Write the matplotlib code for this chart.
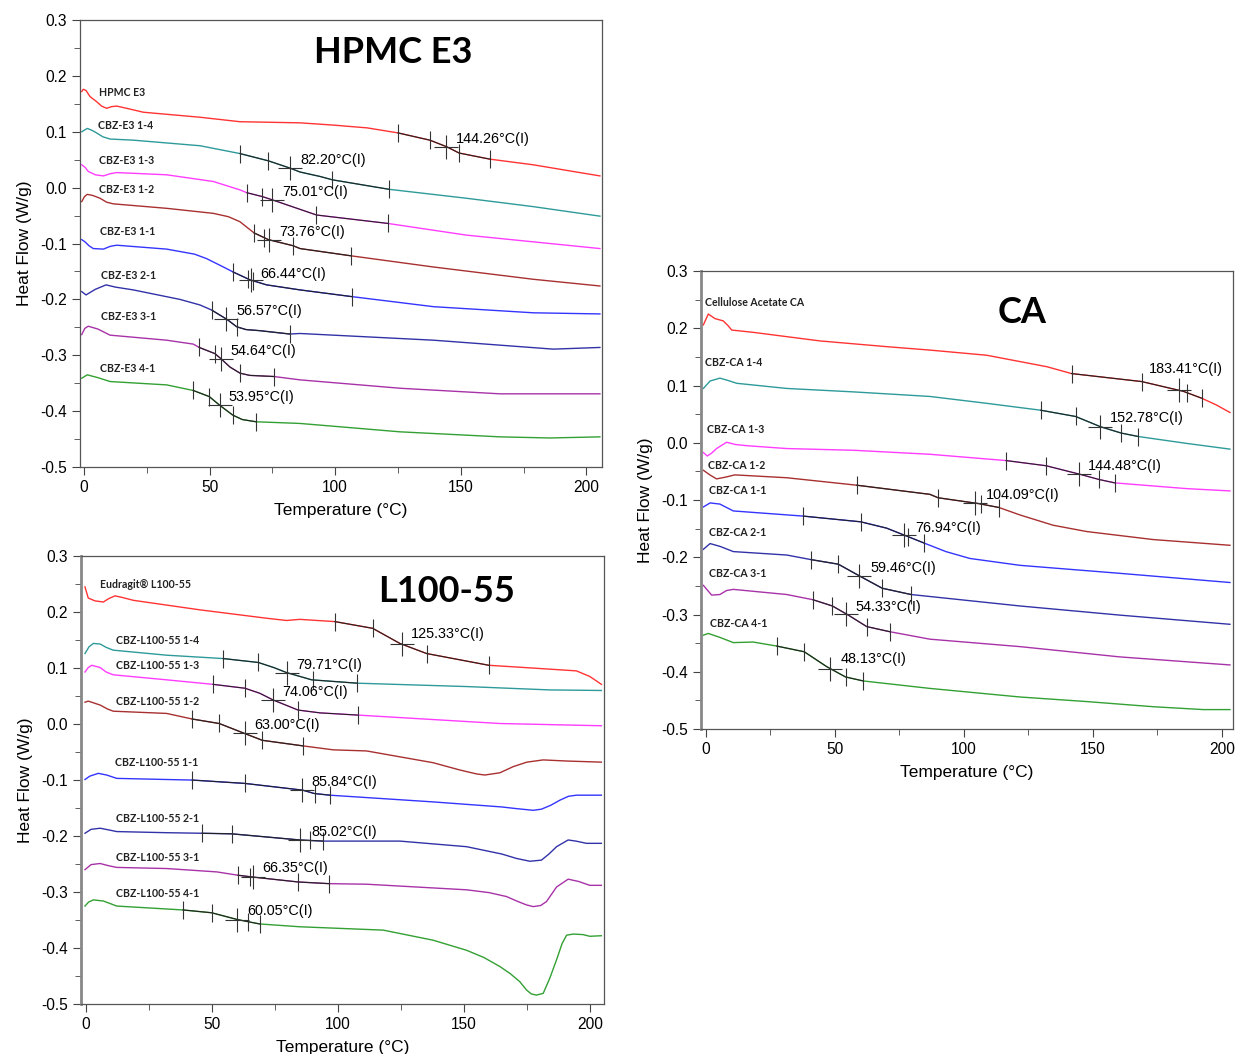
import numpy as np
import matplotlib
matplotlib.use('Agg')
import matplotlib.pyplot as plt
from matplotlib.ticker import MultipleLocator, FormatStrFormatter

plt.rcParams['font.family'] = ['Liberation Sans', 'DejaVu Sans']
plt.rcParams['axes.unicode_minus'] = False

# ---- HPMC E3 panel: (temperature degC, heat flow W/g)
hpmc_e3 = [(-0.9, 0.172), (-0.3, 0.176), (0.8, 0.174), (2.4, 0.163), (5.0, 0.154),
           (7.0, 0.146), (9.0, 0.142), (11.0, 0.145), (13.0, 0.146), (17.0, 0.142),
           (23.6, 0.135), (46.2, 0.126), (62.1, 0.118), (86.0, 0.116), (99.1, 0.112),
           (112.7, 0.107), (125.0, 0.098), (137.7, 0.085), (144.5, 0.073), (149.3, 0.062),
           (161.6, 0.051), (178.7, 0.041), (205.4, 0.021)]
cbz_e3_14 = [(-0.9, 0.100), (1.3, 0.106), (3.0, 0.103), (5.0, 0.098), (7.5, 0.091),
             (10.4, 0.087), (19.6, 0.085), (46.2, 0.075), (62.1, 0.061), (73.4, 0.048),
             (82.0, 0.035), (86.0, 0.028), (94.0, 0.020), (98.9, 0.014), (121.5, -0.003),
             (152.3, -0.019), (178.9, -0.034), (205.4, -0.051)]
cbz_e3_13 = [(-0.9, 0.041), (0.5, 0.036), (1.7, 0.029), (4.5, 0.023), (7.7, 0.021),
             (10.5, 0.025), (13.0, 0.027), (32.9, 0.023), (51.5, 0.011), (62.1, -0.004),
             (64.8, -0.009), (71.0, -0.016), (75.1, -0.022), (92.6, -0.049),
             (120.9, -0.064), (152.3, -0.085), (178.9, -0.097), (205.4, -0.109)]
cbz_e3_12 = [(-0.9, -0.025), (0.2, -0.016), (1.3, -0.012), (3.5, -0.014), (6.4, -0.019),
             (9.0, -0.026), (11.7, -0.029), (32.9, -0.037), (51.5, -0.046), (57.5, -0.052),
             (62.1, -0.061), (67.7, -0.081), (73.4, -0.093), (83.3, -0.104), (86.0, -0.109),
             (106.3, -0.122), (139.1, -0.142), (178.9, -0.164), (205.4, -0.176)]
cbz_e3_11 = [(-0.9, -0.093), (0.4, -0.097), (2.0, -0.104), (3.7, -0.109), (7.7, -0.110),
             (10.5, -0.105), (13.0, -0.103), (32.9, -0.110), (44.0, -0.119), (48.8, -0.127),
             (55.5, -0.142), (59.4, -0.151), (66.1, -0.165), (72.7, -0.174), (86.0, -0.183),
             (106.6, -0.195), (139.1, -0.213), (178.9, -0.224), (205.4, -0.226)]
cbz_e3_21 = [(-0.9, -0.186), (0.8, -0.192), (4.5, -0.182), (8.8, -0.174), (12.5, -0.178),
             (19.6, -0.183), (38.2, -0.200), (46.2, -0.210), (50.8, -0.219), (57.0, -0.236),
             (60.8, -0.249), (64.5, -0.254), (70.1, -0.256), (82.0, -0.262), (86.0, -0.261),
             (139.1, -0.273), (186.8, -0.289), (205.4, -0.286)]
cbz_e3_31 = [(-0.9, -0.263), (0.3, -0.252), (1.7, -0.248), (5.5, -0.253), (10.4, -0.264),
             (32.9, -0.273), (43.5, -0.280), (45.9, -0.286), (52.1, -0.297), (54.5, -0.306),
             (58.1, -0.321), (62.1, -0.332), (66.0, -0.336), (75.6, -0.338), (86.0, -0.344),
             (125.8, -0.359), (165.6, -0.369), (205.4, -0.369)]
cbz_e3_41 = [(-0.9, -0.341), (1.3, -0.335), (5.5, -0.340), (10.4, -0.347), (32.9, -0.353),
             (43.5, -0.363), (49.9, -0.374), (53.9, -0.389), (59.2, -0.407), (63.0, -0.415),
             (68.5, -0.419), (86.0, -0.422), (125.8, -0.437), (165.6, -0.446),
             (185.5, -0.448), (205.4, -0.446)]
e3_names = ['HPMC E3', 'CBZ-E3 1-4', 'CBZ-E3 1-3', 'CBZ-E3 1-2', 'CBZ-E3 1-1',
            'CBZ-E3 2-1', 'CBZ-E3 3-1', 'CBZ-E3 4-1']
e3_tg = [144.26, 82.20, 75.01, 73.76, 66.44, 56.57, 54.64, 53.95]
e3_ticks = [[125.0, 137.7, 149.3, 161.6], [62.1, 73.2, 98.7, 121.4],
            [64.9, 70.9, 92.4, 121.0], [67.7, 71.7, 83.2, 106.3],
            [59.3, 65.3, 67.3, 106.7], [51.0, 60.9, 82.0],
            [45.8, 52.1, 62.1, 75.6], [43.4, 49.8, 59.3, 68.5]]

# ---- Eudragit L100-55 panel
eudragit = [(-0.4, 0.245), (0.9, 0.225), (3.6, 0.220), (6.9, 0.218), (9.0, 0.224),
            (11.5, 0.229), (14.5, 0.226), (18.8, 0.221), (45.2, 0.204), (71.7, 0.189),
            (79.6, 0.185), (84.9, 0.187), (98.8, 0.183), (113.8, 0.171), (124.6, 0.144),
            (135.2, 0.126), (159.9, 0.105), (177.5, 0.100), (194.7, 0.095), (200.0, 0.085),
            (204.6, 0.071)]
cbz_l_14 = [(-0.4, 0.126), (1.2, 0.138), (2.9, 0.144), (5.6, 0.143), (8.0, 0.137),
            (10.8, 0.132), (32.0, 0.123), (54.5, 0.117), (68.4, 0.110), (74.5, 0.101),
            (79.6, 0.092), (89.6, 0.079), (107.7, 0.073), (151.1, 0.067), (184.1, 0.061),
            (204.6, 0.060)]
cbz_l_13 = [(-0.4, 0.093), (0.9, 0.101), (2.3, 0.105), (5.6, 0.101), (8.0, 0.093),
            (10.8, 0.088), (32.0, 0.079), (50.3, 0.071), (63.1, 0.064), (69.0, 0.055),
            (74.3, 0.043), (84.2, 0.025), (92.9, 0.020), (108.1, 0.016), (164.3, 0.001),
            (204.6, -0.003)]
cbz_l_12 = [(-0.4, 0.039), (0.9, 0.041), (5.6, 0.034), (8.5, 0.027), (10.8, 0.023),
            (32.0, 0.019), (42.2, 0.009), (52.9, 0.001), (63.1, -0.017), (70.0, -0.029),
            (86.2, -0.039), (98.1, -0.046), (111.4, -0.048), (137.8, -0.069),
            (148.4, -0.082), (155.0, -0.089), (158.3, -0.091), (164.3, -0.087),
            (169.6, -0.076), (175.0, -0.068), (181.5, -0.064), (190.8, -0.066),
            (204.6, -0.068)]
cbz_l_11 = [(-0.4, -0.099), (1.5, -0.093), (4.9, -0.088), (8.2, -0.091), (12.2, -0.097),
            (32.0, -0.099), (42.2, -0.100), (63.1, -0.106), (86.0, -0.118), (90.6, -0.124),
            (96.8, -0.127), (137.8, -0.139), (165.0, -0.148), (170.9, -0.151),
            (177.5, -0.154), (180.8, -0.152), (184.5, -0.145), (188.1, -0.136),
            (191.5, -0.129), (194.7, -0.127), (204.6, -0.127)]
cbz_l_21 = [(-0.4, -0.195), (2.0, -0.188), (5.6, -0.186), (9.0, -0.189), (12.2, -0.192),
            (32.0, -0.194), (45.9, -0.195), (57.8, -0.196), (84.9, -0.207), (94.2, -0.209),
            (124.6, -0.209), (151.1, -0.219), (165.0, -0.232), (170.9, -0.240),
            (176.2, -0.245), (180.8, -0.243), (183.8, -0.232), (186.8, -0.219),
            (191.4, -0.207), (194.5, -0.209), (198.7, -0.213), (204.6, -0.213)]
cbz_l_31 = [(-0.4, -0.260), (2.0, -0.251), (5.6, -0.249), (9.0, -0.253), (12.2, -0.256),
            (32.0, -0.258), (51.9, -0.264), (60.4, -0.270), (65.8, -0.273), (84.2, -0.282),
            (96.5, -0.285), (111.4, -0.286), (151.1, -0.296), (160.0, -0.301),
            (166.9, -0.308), (171.5, -0.317), (174.9, -0.323), (177.5, -0.326),
            (180.5, -0.324), (182.8, -0.317), (184.8, -0.304), (186.8, -0.291),
            (191.4, -0.277), (195.5, -0.281), (200.0, -0.288), (204.6, -0.288)]
cbz_l_41 = [(-0.4, -0.325), (1.0, -0.318), (2.9, -0.314), (6.9, -0.316), (12.2, -0.325),
            (38.6, -0.332), (49.9, -0.337), (60.0, -0.349), (64.4, -0.353), (69.0, -0.357),
            (84.9, -0.362), (118.0, -0.368), (137.8, -0.386), (151.1, -0.404),
            (158.0, -0.417), (164.3, -0.433), (168.5, -0.446), (172.2, -0.460),
            (174.9, -0.475), (176.8, -0.482), (178.8, -0.484), (181.5, -0.481),
            (184.1, -0.454), (186.8, -0.421), (189.0, -0.392), (190.8, -0.377),
            (193.5, -0.375), (197.3, -0.376), (200.0, -0.379), (204.6, -0.378)]
l_names = ['Eudragit\u00ae L100-55', 'CBZ-L100-55 1-4', 'CBZ-L100-55 1-3',
           'CBZ-L100-55 1-2', 'CBZ-L100-55 1-1', 'CBZ-L100-55 2-1',
           'CBZ-L100-55 3-1', 'CBZ-L100-55 4-1']
l_tg = [125.33, 79.71, 74.06, 63.00, 85.84, 85.02, 66.35, 60.05]
l_ticks = [[98.8, 113.9, 135.3, 159.9], [54.4, 68.3, 90.1, 107.5],
           [50.4, 63.1, 84.1, 107.9], [42.1, 52.8, 69.8, 86.1],
           [42.1, 63.1, 90.9, 96.8], [46.0, 57.9, 88.9, 94.0],
           [60.3, 65.1, 84.1, 96.4], [38.5, 50.0, 64.3, 69.0]]

# ---- Cellulose acetate panel
cellulose_ca = [(-1.0, 0.206), (0.9, 0.225), (3.5, 0.217), (6.7, 0.213), (8.5, 0.205),
                (10.0, 0.197), (18.3, 0.193), (44.2, 0.178), (70.0, 0.168), (86.8, 0.162),
                (108.8, 0.153), (132.1, 0.133), (141.7, 0.121), (168.9, 0.107),
                (185.0, 0.090), (192.1, 0.078), (197.9, 0.066), (203.1, 0.053)]
cbz_ca_14 = [(-1.0, 0.095), (1.6, 0.108), (5.4, 0.113), (8.5, 0.109), (11.9, 0.104),
             (31.3, 0.095), (57.1, 0.089), (86.8, 0.081), (108.8, 0.069), (129.7, 0.057),
             (143.3, 0.046), (153.0, 0.028), (161.0, 0.017), (167.6, 0.011),
             (186.3, -0.001), (203.1, -0.011)]
cbz_ca_13 = [(-1.0, -0.017), (0.5, -0.023), (2.2, -0.018), (4.1, -0.010), (8.0, 0.001),
             (11.5, -0.003), (15.8, -0.005), (31.3, -0.010), (57.1, -0.013), (86.8, -0.020),
             (116.3, -0.031), (131.8, -0.040), (145.0, -0.055), (152.3, -0.064),
             (158.5, -0.070), (186.3, -0.080), (203.1, -0.084)]
cbz_ca_12 = [(-1.0, -0.048), (1.5, -0.056), (4.1, -0.063), (7.5, -0.060), (11.2, -0.056),
             (31.3, -0.061), (58.4, -0.074), (86.8, -0.090), (90.0, -0.096), (105.5, -0.106),
             (113.6, -0.113), (121.7, -0.126), (134.6, -0.144), (147.6, -0.155),
             (173.4, -0.169), (203.1, -0.179)]
cbz_ca_11 = [(-1.0, -0.112), (1.6, -0.105), (5.4, -0.107), (10.6, -0.119), (37.7, -0.128),
             (60.0, -0.138), (70.0, -0.149), (78.4, -0.164), (84.5, -0.175), (93.0, -0.190),
             (102.3, -0.202), (121.7, -0.214), (160.5, -0.228), (203.1, -0.244)]
cbz_ca_21 = [(-1.0, -0.186), (1.6, -0.176), (5.5, -0.181), (10.6, -0.190), (31.3, -0.196),
             (40.7, -0.204), (51.3, -0.212), (59.7, -0.233), (68.3, -0.254), (79.5, -0.265),
             (121.7, -0.285), (160.5, -0.301), (203.1, -0.317)]
cbz_ca_31 = [(-1.0, -0.249), (2.2, -0.266), (5.4, -0.265), (8.0, -0.258), (10.6, -0.256),
             (31.3, -0.265), (41.4, -0.274), (49.0, -0.285), (55.2, -0.301), (62.3, -0.321),
             (71.3, -0.330), (86.8, -0.343), (121.7, -0.356), (160.5, -0.374),
             (203.1, -0.388)]
cbz_ca_41 = [(-1.0, -0.336), (0.9, -0.333), (5.5, -0.340), (10.6, -0.349), (18.3, -0.348),
             (27.4, -0.355), (38.1, -0.365), (46.8, -0.391), (54.1, -0.409), (61.0, -0.416),
             (86.8, -0.429), (121.7, -0.444), (147.6, -0.452), (173.4, -0.461),
             (192.8, -0.466), (203.1, -0.466)]
ca_names = ['Cellulose Acetate CA', 'CBZ-CA 1-4', 'CBZ-CA 1-3', 'CBZ-CA 1-2',
            'CBZ-CA 1-1', 'CBZ-CA 2-1', 'CBZ-CA 3-1', 'CBZ-CA 4-1']
ca_tg = [183.41, 152.78, 144.48, 104.09, 76.94, 59.46, 54.33, 48.13]
ca_ticks = [[141.7, 168.9, 186.4, 192.1], [129.7, 143.3, 161.0, 167.6],
            [116.3, 131.8, 152.3, 158.5], [58.4, 90.0, 106.6, 113.6],
            [37.7, 60.0, 78.3, 84.5], [40.7, 51.3, 68.3, 79.5],
            [41.5, 48.8, 62.3, 71.3], [27.4, 38.1, 54.1, 61.0]]

colors = ['#ff3333', '#2e9a9a', '#ff3cff', '#a83030', '#3434ff', '#3232a8',
          '#a832a8', '#33a033']


def style_axes(ax, xlim, left_lw):
    ax.set_xlim(*xlim)
    ax.set_ylim(-0.5, 0.3)
    ax.xaxis.set_major_locator(MultipleLocator(50))
    ax.xaxis.set_minor_locator(MultipleLocator(25))
    ax.yaxis.set_major_locator(MultipleLocator(0.1))
    ax.yaxis.set_minor_locator(MultipleLocator(0.05))
    ax.yaxis.set_major_formatter(FormatStrFormatter('%.1f'))
    ax.tick_params(which='both', direction='out', colors='#444444', labelcolor='black',
                   labelsize=11.2)
    ax.tick_params(which='major', length=6)
    ax.tick_params(which='minor', length=4)
    for s in ax.spines.values():
        s.set_color('#555555')
        s.set_linewidth(0.9)
    ax.spines['left'].set_linewidth(left_lw)
    ax.spines['left'].set_color('#888888' if left_lw > 1.2 else '#555555')
    ax.set_xlabel('Temperature (\u00b0C)', fontsize=12.5, labelpad=5.5)
    ax.set_ylabel('Heat Flow (W/g)', fontsize=12.5, labelpad=6)


def draw_curve(ax, pts, color, ticks, tg, txt_xy, name, name_xy):
    T = np.array([p[0] for p in pts])
    y = np.array([p[1] for p in pts])
    ax.plot(T, y, color=color, lw=1.0, zorder=2)
    lo, hi = min(ticks + [tg]), max(ticks + [tg])
    inside = (T > lo) & (T < hi)
    st = np.concatenate([[lo], T[inside], [hi]])
    ax.plot(st, np.interp(st, T, y), color='#222222', lw=0.8, zorder=3)
    ax.plot(ticks, np.interp(ticks, T, y), ls='none', marker='|', ms=13,
            mec='#333333', mew=0.8, zorder=4)
    ax.plot([tg], [np.interp(tg, T, y)], ls='none', marker='+', ms=17,
            mec='#333333', mew=0.8, zorder=4)
    ax.text(txt_xy[0], txt_xy[1], '%.2f\u00b0C(I)' % tg, fontsize=10.4,
            va='center', ha='left', zorder=5)
    ax.text(name_xy[0], name_xy[1], name, fontsize=7.6, fontweight='bold',
            family=['Lato', 'DejaVu Sans'], va='center', ha='left', color='#222222')


fig = plt.figure(figsize=(12.36, 10.54), dpi=100)

# ---------------- HPMC E3
ax1 = fig.add_axes([0.0647, 0.5569, 0.4223, 0.4241])
style_axes(ax1, (-1.6, 206.2), 0.9)
e3_curves = [hpmc_e3, cbz_e3_14, cbz_e3_13, cbz_e3_12, cbz_e3_11, cbz_e3_21,
             cbz_e3_31, cbz_e3_41]
e3_txt = [(148.1, 0.087), (86.0, 0.049), (78.8, -0.008), (77.6, -0.079),
          (70.1, -0.155), (60.5, -0.221), (58.5, -0.292), (57.7, -0.375)]
e3_lab = [(6.0, 0.171), (5.6, 0.112), (6.0, 0.048), (6.0, -0.003), (6.4, -0.078),
          (6.8, -0.158), (6.8, -0.230), (6.4, -0.323)]
for i in range(8):
    draw_curve(ax1, e3_curves[i], colors[i], e3_ticks[i], e3_tg[i], e3_txt[i],
               e3_names[i], e3_lab[i])
ax1.text(0.60, 0.927, 'HPMC E3', transform=ax1.transAxes, fontsize=26,
         fontweight='bold', family=['Lato', 'DejaVu Sans'], ha='center', va='center')

# ---------------- L100-55
ax2 = fig.add_axes([0.0655, 0.0474, 0.4231, 0.4250])
style_axes(ax2, (-2.0, 205.6), 2.0)
l_curves = [eudragit, cbz_l_14, cbz_l_13, cbz_l_12, cbz_l_11, cbz_l_21, cbz_l_31, cbz_l_41]
l_txt = [(129.0, 0.161), (83.3, 0.105), (77.8, 0.057), (66.7, -0.002),
         (89.3, -0.104), (89.3, -0.193), (69.8, -0.257), (63.9, -0.334)]
l_lab = [(5.6, 0.250), (11.9, 0.150), (11.9, 0.104), (11.9, 0.041), (11.5, -0.068),
         (11.9, -0.168), (11.9, -0.238), (11.9, -0.302)]
for i in range(8):
    draw_curve(ax2, l_curves[i], colors[i], l_ticks[i], l_tg[i], l_txt[i],
               l_names[i], l_lab[i])
ax2.text(0.70, 0.921, 'L100-55', transform=ax2.transAxes, fontsize=26,
         fontweight='bold', family=['Lato', 'DejaVu Sans'], ha='center', va='center')

# ---------------- CA
ax3 = fig.add_axes([0.5672, 0.3083, 0.4304, 0.4345])
style_axes(ax3, (-1.9, 204.3), 2.0)
ca_curves = [cellulose_ca, cbz_ca_14, cbz_ca_13, cbz_ca_12, cbz_ca_11, cbz_ca_21,
             cbz_ca_31, cbz_ca_41]
ca_txt = [(171.7, 0.129), (156.6, 0.043), (148.1, -0.041), (108.5, -0.091),
          (81.0, -0.149), (63.6, -0.219), (58.1, -0.287), (52.3, -0.378)]
ca_lab = [(-0.4, 0.246), (-0.4, 0.141), (0.4, 0.024), (0.8, -0.039), (1.2, -0.084),
          (1.2, -0.156), (1.2, -0.229), (1.6, -0.315)]
for i in range(8):
    draw_curve(ax3, ca_curves[i], colors[i], ca_ticks[i], ca_tg[i], ca_txt[i],
               ca_names[i], ca_lab[i])
ax3.text(0.603, 0.909, 'CA', transform=ax3.transAxes, fontsize=26,
         fontweight='bold', family=['Lato', 'DejaVu Sans'], ha='center', va='center')

fig.savefig('out.png', dpi=100)
